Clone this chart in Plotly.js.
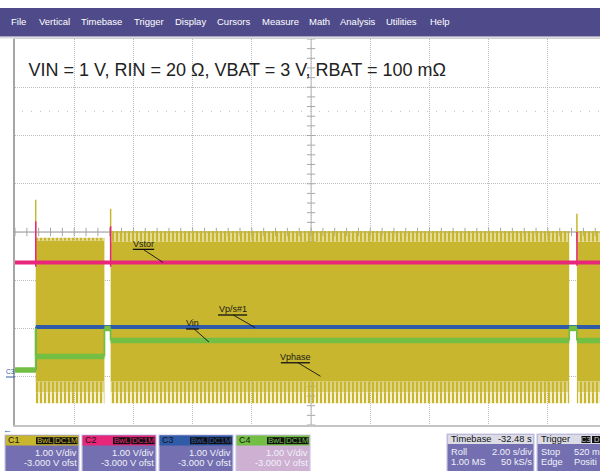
<!DOCTYPE html>
<html><head><meta charset="utf-8">
<script src="https://cdn.plot.ly/plotly-3.0.1.min.js"></script>
<style>html,body{margin:0;padding:0;background:#fff}#plot{width:600px;height:471px}</style>
</head><body><div id="plot"></div>
<script>
const chartTitle = 'VIN = 1 V, RIN = 20 Ω, VBAT = 3 V, RBAT = 100 mΩ';
// switching bursts of Vphase (time in s, 2 s/div)
const burstStart    = [0.70, 3.23, 18.98];
const burstEnd      = [3.02, 18.72, 20.00];
const phaseTopSolid = [2.82, 2.80, 2.80];
const phaseTopPeak  = [2.88, 3.02, 3.02];
const phaseBotSolid = [-0.10, -0.10, -0.10];
const phaseBotMid   = [-0.32, -0.32, -0.32];
const phaseBotPeak  = [-0.55, -0.55, -0.55];
const phaseSpike    = [3.67, 3.48, 3.38];
// Vstor
const vstorLevel   = 2.37;
const vstorSpikeHi = [3.22, 3.12, 3.00];
const vstorSpikeLo = [2.28, 2.28, 2.30];
// Vp/s#1
const vpsPre = 0.14, vpsLevel = 1.03;
// Vin
const vinPre = 0.14, vinIdle = 1.00;
const vinBurst = [0.42, 0.75, 0.75];
const tEnd = 20;
// screen texts
const menuItems = ['File','Vertical','Timebase','Trigger','Display','Cursors','Measure','Math','Analysis','Utilities','Help'];
const channelNames = ['C1','C2','C3','C4'];
const channelScale = ['1.00 V/div','1.00 V/div','1.00 V/div','1.00 V/div'];
const channelOffset = ['-3.000 V ofst','-3.000 V ofst','-3.000 V ofst','-3.000 V ofst'];
const timebaseRows = [['Timebase','-32.48 s'],['Roll','2.00 s/div'],['1.00 MS','50 kS/s']];
const triggerRows = [['Trigger',''],['Stop','520 m'],['Edge','Positi']];
const traceLabels = ['Vstor','Vp/s#1','Vin','Vphase'];

// ---------- styling / layout helpers ----------
const YEL='#C8B62E', MAG='#E8267A', BLU='#2F5BA8', GRN='#72BF44';
const chanColors=[YEL,MAG,BLU,GRN];
const FONT='Liberation Sans, Arial, sans-serif';
const PX = x => (x-15)/585;      // screen px -> paper
const PY = y => (425-y)/386;
const XR=[0,19.76], YR=[-1,7];
const xCentre=10, yCentre=3, xMinor=0.4, yMinor=0.2;

const traces=[];
const base={type:'scatter',mode:'lines',hoverinfo:'skip',showlegend:false};
// graticule minor ticks on the centre lines (drawn first, below the traces)
const tkx=[], tky=[];
for(let v=XR[0]; v<=XR[1]+1e-9; v+=xMinor){tkx.push(+v.toFixed(3));}
for(let v=YR[0]; v<=YR[1]+1e-9; v+=yMinor){tky.push(+v.toFixed(3));}
traces.push(Object.assign({},base,{mode:'markers',x:tkx,y:tkx.map(()=>yCentre),marker:{symbol:'line-ns',size:6,color:'#a8a8a8',line:{color:'#a8a8a8',width:1}}}));
traces.push(Object.assign({},base,{mode:'markers',x:tky.map(()=>xCentre),y:tky,marker:{symbol:'line-ew',size:6,color:'#a8a8a8',line:{color:'#a8a8a8',width:1}}}));

const pat=(sol)=>({fillcolor:'rgba(255,255,255,0)',fillpattern:{shape:'|',size:4,solidity:sol,fgcolor:YEL,fgopacity:1,bgcolor:'rgba(255,255,255,0)',fillmode:'replace'}});
for(let i=0;i<burstStart.length;i++){
  const s=burstStart[i], e=burstEnd[i];
  const band=(lo,hi,extra)=>Object.assign({},base,{x:[s,e,e,s,s],y:[lo,lo,hi,hi,lo],fill:'toself',line:{width:0,color:'rgba(0,0,0,0)'}},extra);
  traces.push(band(phaseBotSolid[i],phaseTopSolid[i],{fillcolor:YEL}));
  traces.push(band(phaseTopSolid[i],phaseTopPeak[i],pat(0.75)));
  traces.push(band(phaseBotMid[i],phaseBotSolid[i],pat(0.8)));
  traces.push(band(phaseBotPeak[i],phaseBotMid[i],pat(0.6)));
  traces.push(Object.assign({},base,{x:[s,s],y:[phaseTopSolid[i],phaseSpike[i]],line:{color:YEL,width:1.5}}));
}
// Vstor
traces.push(Object.assign({},base,{x:[0,tEnd],y:[vstorLevel,vstorLevel],line:{color:MAG,width:4}}));
for(let i=0;i<burstStart.length;i++){
  traces.push(Object.assign({},base,{x:[burstStart[i],burstStart[i]],y:[vstorSpikeLo[i],vstorSpikeHi[i]],line:{color:MAG,width:1.5}}));
}
// Vp/s#1
traces.push(Object.assign({},base,{x:[0,burstStart[0],null,burstStart[0],tEnd],y:[vpsPre,vpsPre,null,vpsLevel,vpsLevel],line:{color:BLU,width:4}}));
traces.push(Object.assign({},base,{x:[burstStart[0],burstStart[0]],y:[vpsPre,vpsLevel],line:{color:BLU,width:1.5}}));
// Vin: level segments (thick) and transitions (thin)
const hx=[0,burstStart[0],null], hy=[vinPre,vinPre,null];
const vx=[burstStart[0],burstStart[0],null], vy=[vinPre,vinIdle,null];
for(let i=0;i<burstStart.length;i++){
  hx.push(burstStart[i],burstEnd[i],null); hy.push(vinBurst[i],vinBurst[i],null);
  vx.push(burstStart[i],burstStart[i],null,burstEnd[i],burstEnd[i],null);
  vy.push(vinIdle,vinBurst[i],null,vinBurst[i],vinIdle,null);
  if(i+1<burstStart.length){hx.push(burstEnd[i],burstStart[i+1],null);hy.push(vinIdle,vinIdle,null);}
}
traces.push(Object.assign({},base,{x:vx,y:vy,connectgaps:false,line:{color:GRN,width:1.8}}));
traces.push(Object.assign({},base,{x:hx,y:hy,connectgaps:false,line:{color:GRN,width:5.5}}));

const shapes=[], ann=[];
// centre graticule lines and reference dotted level
shapes.push({type:'line',xref:'x',yref:'paper',x0:xCentre,x1:xCentre,y0:0,y1:1,line:{color:'#b8b8b8',width:1},layer:'below'});
shapes.push({type:'line',xref:'paper',yref:'y',x0:0,x1:1,y0:yCentre,y1:yCentre,line:{color:'#b8b8b8',width:1.5},layer:'below'});
shapes.push({type:'line',xref:'paper',yref:'y',x0:0.012,x1:1,y0:5.5,y1:5.5,line:{color:'#c0c0c0',width:1,dash:'1px,8px'},layer:'below'});
// menu bar
shapes.push({type:'rect',xref:'paper',yref:'paper',x0:PX(0),x1:PX(600),y0:PY(36.5),y1:PY(8),fillcolor:'#4F4B8B',line:{width:0}});
shapes.push({type:'line',xref:'paper',yref:'paper',x0:PX(0),x1:PX(600),y0:PY(37.8),y1:PY(37.8),line:{color:'#dcdcdc',width:1.5}});
const menuLeft=[9.6,37.5,79.6,133,174,216,261,308,339,385,428.6];
menuItems.forEach((m,i)=>ann.push({xref:'paper',yref:'paper',x:PX(menuLeft[i]-1),y:PY(21.5),xanchor:'left',yanchor:'middle',text:m,showarrow:false,font:{family:FONT,size:9.5,color:'#ffffff'}}));

// channel boxes
const chanLeft=[5,82,159,236];
const txt=(x,y,t,anchor,size,color)=>ann.push({xref:'paper',yref:'paper',x:PX(x),y:PY(y),xanchor:anchor,yanchor:'middle',text:t,showarrow:false,borderpad:0,font:{family:FONT,size:size,color:color}});
const rect=(x0,x1,y0,y1,fill,lc,lw)=>shapes.push({type:'rect',xref:'paper',yref:'paper',x0:PX(x0),x1:PX(x1),y0:PY(y1),y1:PY(y0),fillcolor:fill,line:{color:lc||fill,width:lw||0}});
channelNames.forEach((c,i)=>{
  const L=chanLeft[i];
  rect(L,L+74,435,472,i===3?'#CDB0D2':'#736FB0','#C9C7E8',1.2);
  rect(L+0.6,L+73.4,435.6,445.5,chanColors[i]);
  rect(L+31,L+48.5,437.2,444.2,'#111111');
  rect(L+49.3,L+72.6,437.2,444.2,'#111111');
  txt(L+2,440.5,c,'left',9,'#151515');
  txt(L+39.8,440.9,'BwL','center',8,chanColors[i]);
  txt(L+61,440.9,'DC1M','center',8,chanColors[i]);
  txt(L+72.5,452.5,channelScale[i],'right',9.3,'#F2F2FA');
  txt(L+72.5,463,channelOffset[i],'right',9.3,'#F2F2FA');
});
// timebase and trigger boxes
[[447,534,timebaseRows],[537,625,triggerRows]].forEach(([L,R,rows])=>{
  rect(L,R,434,472,'#736FB0','#C9C7E8',1.2);
  rect(L+0.6,R-0.6,434.6,444,'#DCDCE6');
  rows.forEach((r,j)=>{
    const y=[439.3,452.3,462.5][j], col=j===0?'#111111':'#F2F2FA';
    txt(L+2.5,y,r[0],'left',9.3,col);
    if(R<600) txt(R-1.5,y,r[1],'right',9.3,col); else if(r[1]) txt(L+35.5,y,r[1],'left',9.3,col);
  });
});
rect(581.5,590.5,436,443,'#111111');
rect(592,615,436,443,'#111111');
txt(586,439.6,'C3','center',7.5,'#d0d0d0');
txt(593,439.6,'D','left',7.5,'#d0d0d0');
// left markers
txt(2,430,'←','left',9,BLU);
txt(4.5,371,'C3','left',6.5,BLU);
shapes.push({type:'line',xref:'paper',yref:'paper',x0:PX(6),x1:PX(15),y0:PY(377),y1:PY(377),line:{color:BLU,width:1}});

// trace labels with underline + leader line (data coords)
const labelPos=[ // [textX, textY, ulX0, ulX1, ulY, leadX0, leadX1, leadY1]
  [4.34,2.76,3.98,4.70,2.64,4.33,5.00,2.37],
  [7.35,1.41,6.86,7.84,1.28,7.37,8.11,1.02],
  [5.99,1.12,5.78,6.21,0.99,6.05,6.55,0.72],
  [9.49,0.41,8.98,9.96,0.29,9.56,10.32,0.01]
];
traceLabels.forEach((t,i)=>{
  const p=labelPos[i];
  ann.push({xref:'x',yref:'y',x:p[0],y:p[1],text:t,showarrow:false,xanchor:'center',yanchor:'middle',borderpad:0,font:{family:FONT,size:9,color:'#1a1a1a'}});
  shapes.push({type:'line',xref:'x',yref:'y',x0:p[2],x1:p[3],y0:p[4],y1:p[4],line:{color:'#111',width:1.3}});
  shapes.push({type:'line',xref:'x',yref:'y',x0:p[5],x1:p[6],y0:p[4],y1:p[7],line:{color:'#111',width:0.9}});
});

const layout={
  width:600,height:471,margin:{l:15,r:0,t:39,b:46,pad:0},
  paper_bgcolor:'#ffffff',plot_bgcolor:'#ffffff',showlegend:false,
  font:{family:FONT},
  title:{text:chartTitle,xref:'paper',yref:'paper',x:PX(28.5),xanchor:'left',y:PY(70),yanchor:'middle',font:{family:FONT,size:18,color:'#222222'}},
  xaxis:{range:XR,dtick:2,tick0:0,showgrid:true,griddash:'1px,1px',gridcolor:'#bdbdbd',gridwidth:1,zeroline:false,showticklabels:false,ticks:'',showline:true,mirror:true,linecolor:'#c4c4c4',linewidth:1.5,fixedrange:true},
  yaxis:{range:YR,dtick:1,tick0:-1,showgrid:true,griddash:'1px,1px',gridcolor:'#bdbdbd',gridwidth:1,zeroline:false,showticklabels:false,ticks:'',showline:true,mirror:false,linecolor:'#a6a6a6',linewidth:2,fixedrange:true},
  shapes:shapes,annotations:ann
};
Plotly.newPlot('plot',traces,layout,{staticPlot:true,displayModeBar:false});
</script></body></html>
